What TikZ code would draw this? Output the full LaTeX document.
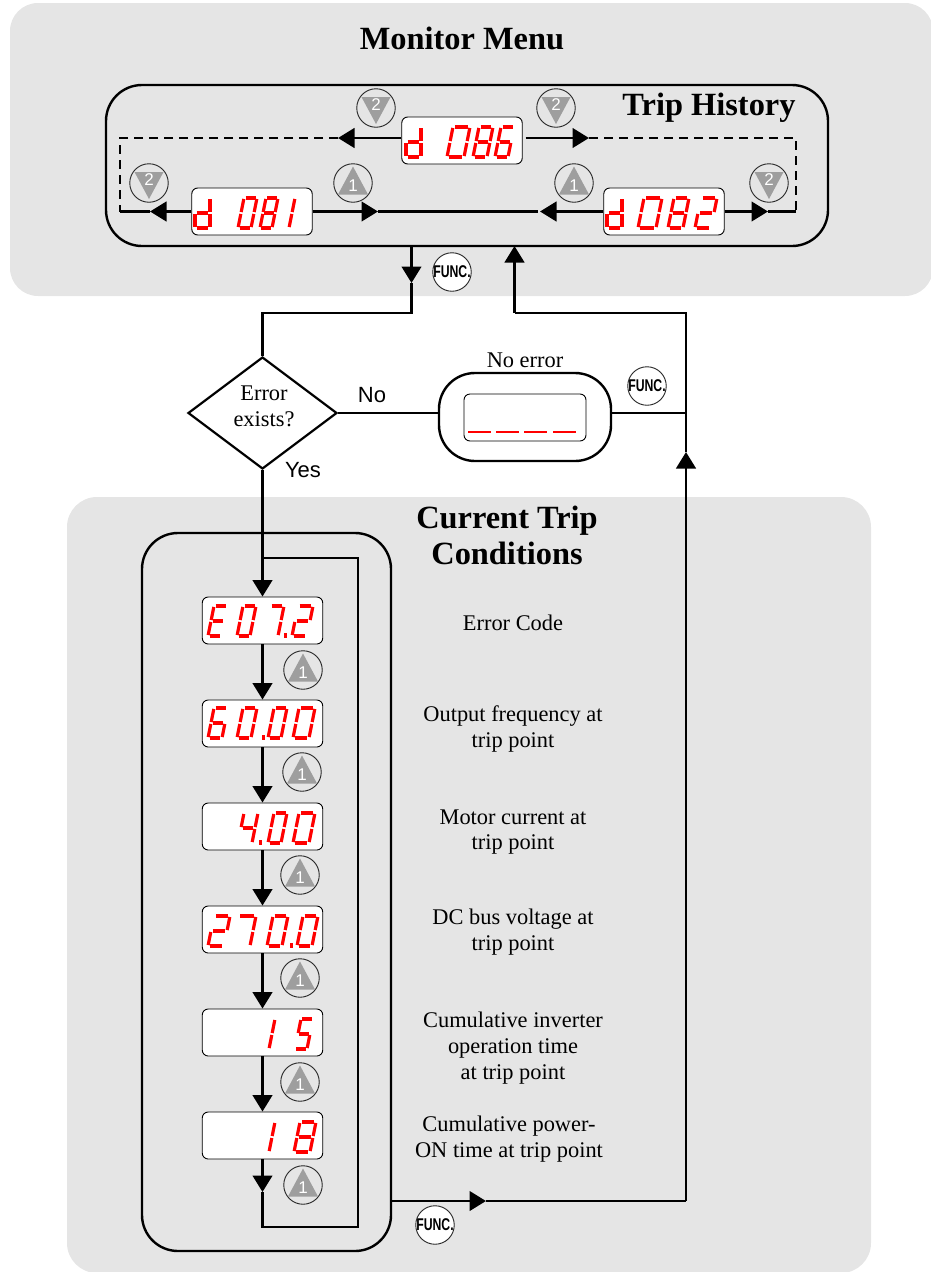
\documentclass[tikz,border=0pt]{standalone}
\usepackage{fontspec}
\usepackage{graphicx}
\setmainfont{Liberation Serif}
\newfontfamily\hv{Liberation Sans}
\usetikzlibrary{shapes.geometric,arrows.meta}
\definecolor{panelgray}{HTML}{E5E5E5}
\definecolor{trigray}{HTML}{9E9E9E}
\definecolor{ledred}{HTML}{FF0000}
% seven segments
\expandafter\def\csname sega\endcsname{\draw (1.5,-30)--(11.5,-30);}
\expandafter\def\csname segf\endcsname{\draw (0,-29)--(0,-16);}
\expandafter\def\csname segb\endcsname{\draw (13,-29)--(13,-16);}
\expandafter\def\csname segg\endcsname{\draw (1.5,-15)--(11.5,-15);}
\expandafter\def\csname sege\endcsname{\draw (0,-14)--(0,-1);}
\expandafter\def\csname segc\endcsname{\draw (13,-14)--(13,-1);}
\expandafter\def\csname segd\endcsname{\draw (1.5,0)--(11.5,0);}
\expandafter\def\csname dig0\endcsname{a,b,c,d,e,f}
\expandafter\def\csname dig1\endcsname{b,c}
\expandafter\def\csname dig2\endcsname{a,b,g,e,d}
\expandafter\def\csname dig4\endcsname{f,g,b,c}
\expandafter\def\csname dig5\endcsname{a,f,g,c,d}
\expandafter\def\csname dig6\endcsname{a,f,g,e,c,d}
\expandafter\def\csname dig7\endcsname{a,b,c}
\expandafter\def\csname dig8\endcsname{a,b,c,d,e,f,g}
\expandafter\def\csname digE\endcsname{a,f,g,e,d}
\expandafter\def\csname digd\endcsname{b,c,d,e,g}
\newcommand{\LED}[4]{%
  \begin{scope}[shift={(#1,#2)},xslant=.2,xscale=#3/13,draw=ledred,line width=3.2pt]
    \edef\curlist{\csname dig#4\endcsname}%
    \foreach \s in \curlist {\csname seg\s\endcsname}
  \end{scope}}
\newcommand{\LEDd}[2]{%
  \begin{scope}[shift={(#1,#2)},xscale=15/13,draw=ledred,line width=3.2pt]
    \edef\curlist{\csname digd\endcsname}%
    \foreach \s in \curlist {\csname seg\s\endcsname}
  \end{scope}}
\newcommand{\LEDdot}[2]{\fill[ledred] (#1,#2-3) rectangle (#1+3.4,#2+1.5);}
\newcommand{\upbtn}[3]{%
  \node[btn] (#1) at (#2,#3) {};
  \fill[trigray] (#2,#3-16.5) -- (#2+15,#3+11.5) -- (#2-15,#3+11.5) -- cycle;
  \node[btnnum] (#1n) at (#2,#3+3) {1};}
\newcommand{\dnbtn}[3]{%
  \node[btn] (#1) at (#2,#3) {};
  \fill[trigray] (#2,#3+16) -- (#2+14.5,#3-11) -- (#2-14.5,#3-11) -- cycle;
  \node[btnnum] (#1n) at (#2,#3-3) {2};}
\newcommand{\funcbtn}[3]{%
  \node[btn,fill=white,font=\hv\bfseries\fontsize{17}{17}\selectfont] (#1) at (#2,#3) {\makebox[0pt][c]{\scalebox{.72}[1]{FUNC.}}};}
\tikzset{
  conn/.style={line width=2.8pt,line cap=butt,line join=miter},
  arr/.style={conn,-{Triangle[length=16.5pt,width=19.5pt]}},
  dashline/.style={line width=2.4pt,dash pattern=on 9pt off 6pt},
  bigbox/.style={draw,line width=2.4pt,inner sep=0pt},
  display/.style={draw=black,line width=.9pt,fill=white,rounded corners=6pt,minimum width=120.5pt,minimum height=47pt,inner sep=0pt,text opacity=0,font=\hv\fontsize{20}{20}\selectfont},
  btn/.style={circle,draw=black!85,line width=.9pt,minimum size=38.5pt,inner sep=0pt},
  btnnum/.style={text=white,inner sep=0pt,font=\hv\fontsize{17}{17}\selectfont},
  title/.style={inner sep=0pt,align=center,font=\bfseries\fontsize{32.4}{36}\selectfont},
  caption/.style={inner sep=0pt,align=center,font=\fontsize{22.4}{25.8}\selectfont},
  sans/.style={inner sep=0pt,font=\hv\fontsize{22}{22}\selectfont},
}
\begin{document}
\begin{tikzpicture}[x=1pt,y=-1pt]
\useasboundingbox (0,0) rectangle (931,1272);
% panels
\fill[panelgray,rounded corners=28pt] (10,3) rectangle (933,296);
\fill[panelgray,rounded corners=30pt] (67,497) rectangle (871,1273);
% containers
\node[bigbox,rounded corners=36pt,minimum width=722pt,minimum height=161pt] (hist) at (467,165.5) {};
\node[bigbox,rounded corners=36pt,minimum width=249pt,minimum height=718pt] (cond) at (266.5,892) {};
\node[bigbox,fill=white,rounded corners=36pt,minimum width=172pt,minimum height=88pt] (noerr) at (525,417) {};
\node[draw=black,line width=.9pt,fill=white,rounded corners=6pt,minimum width=122pt,minimum height=47pt,inner sep=0pt] (nodisp) at (525,417.5) {};
% decision
\node[diamond,draw,fill=white,line width=2.2pt,aspect=1.33,minimum width=149pt,minimum height=112pt,inner sep=0pt] (dec) at (262.5,413) {};
\node[caption] (dect) at (264,406.5) {Error\\exists?};
% displays
\node[display] (d86) at (462,140.5) {d 086};
\node[display] (d81) at (252,211.5) {d 081};
\node[display] (d82) at (664,211.5) {d 082};
\node[display] (e1) at (262.5,620.5) {E 07.2};
\node[display] (e2) at (262.5,723.5) {60.00};
\node[display] (e3) at (262.5,826.5) {4.00};
\node[display] (e4) at (262.5,929.5) {270.0};
\node[display] (e5) at (262.5,1032.5) {15};
\node[display] (e6) at (262.5,1135.5) {18};
% coordinates
\coordinate (tl) at (120,138);
\coordinate (tr) at (796,138);
\coordinate (bl) at (120,211.5);
\coordinate (br) at (796,211.5);
\coordinate (a86l) at (338,138);
\coordinate (a86r) at (589,138);
\coordinate (a81l) at (150,211.5);
\coordinate (a81r) at (378,211.5);
\coordinate (a82l) at (540,211.5);
\coordinate (a82r) at (768,211.5);
\coordinate (dn) at (411.5,283);
\coordinate (knee) at (411.5,313);
\coordinate (kneeb) at (262.5,313);
\coordinate (up) at (514.5,246);
\coordinate (upk) at (514.5,313);
\coordinate (rk) at (686,313);
\coordinate (upr) at (686,452);
\coordinate (rb) at (686,1201);
\coordinate (outa) at (486,1201);
\coordinate (loopa) at (262.5,558);
\coordinate (loopb) at (358,558);
\coordinate (loopc) at (358,1227);
\coordinate (loopd) at (262.5,1227);
\coordinate (looparr) at (262.5,1192);
% trip history connectors
\draw[arr] (d86.west |- a86l) -- (a86l);
\draw[arr] (d86.east |- a86r) ++(3,0) -- (a86r);
\draw[dashline] (a86l) -- (tl) -- (bl);
\draw[dashline] (a86r) -- (tr) -- (br);
\draw[arr] (d81.west) -- (a81l);
\draw[conn] (a81l) -- (bl);
\draw[arr] (d81.east) -- (a81r);
\draw[conn] (a81r) -- (538,211.5);
\draw[arr] (d82.west) -- (a82l);
\draw[arr] (d82.east) -- (a82r);
\draw[conn] (a82r) -- (br);
% flow connectors
\draw[arr] (hist.south -| dn) -- (dn);
\draw[conn] (dn) -- (knee) -- (kneeb) -- (dec.north);
\draw[arr] (rb) -- (upr);
\draw[conn] (upr) -- (rk) -- (upk);
\draw[arr] (upk) -- (up);
\draw[conn] (dec.east) -- (dec.east -| noerr.west);
\draw[conn] (dec.east -| noerr.east) -- (dec.east -| rk);
\draw[arr] (dec.south) -- (e1.north);
\draw[conn] (loopa) -- (loopb) -- (loopc) -- (loopd) -- (looparr);
\draw[arr] (e1.south) -- (e2.north);
\draw[arr] (e2.south) -- (e3.north);
\draw[arr] (e3.south) -- (e4.north);
\draw[arr] (e4.south) -- (e5.north);
\draw[arr] (e5.south) -- (e6.north);
\draw[arr] (e6.south) -- (looparr);
\draw[arr] (cond.east |- rb) -- (outa);
\draw[conn] (outa) -- (rb);
% LED glyphs
\LEDd{406}{157}
\LED{447}{157}{17}{0}\LED{473}{157}{14}{8}\LED{495}{157}{13}{6}
\LEDd{195}{228}
\LED{238}{228}{13}{0}\LED{260}{228}{12}{8}\LED{275}{228}{14}{1}
\LEDd{607}{228}
\LED{638}{228}{18}{0}\LED{668}{228}{15}{8}\LED{695}{228}{16}{2}
\LED{208}{636}{13}{E}\LED{237}{636}{13}{0}\LED{264}{636}{14}{7}\LEDdot{284}{636}\LED{292}{636}{15}{2}
\LED{208}{738}{14}{6}\LED{237}{738}{14}{0}\LEDdot{262}{738}\LED{268}{738}{13}{0}\LED{293}{738}{16}{0}
\LED{238}{843}{14}{4}\LEDdot{259}{843}\LED{268}{843}{13}{0}\LED{293}{843}{16}{0}
\LED{208}{946}{16}{2}\LED{232}{946}{18}{7}\LED{267}{946}{15}{0}\LEDdot{290}{946}\LED{297}{946}{15}{0}
\LED{256}{1049}{13}{1}\LED{295}{1049}{12}{5}
\LED{256}{1152}{13}{1}\LED{294}{1152}{16}{8}
% no-error dashes
\foreach \da/\db in {468/491,496/519,524/547,553/576} \draw[draw=ledred,line width=2pt] (\da,431.5) -- (\db,431.5);
% buttons
\dnbtn{k1}{376}{108}
\dnbtn{k2}{556}{108}
\dnbtn{k3}{149}{183}
\dnbtn{k4}{769}{183}
\upbtn{k5}{353}{183}
\upbtn{k6}{574}{183}
\upbtn{k7}{303}{670}
\upbtn{k8}{302}{772}
\upbtn{k9}{300}{875}
\upbtn{k10}{300}{978}
\upbtn{k11}{300}{1082}
\upbtn{k12}{303}{1185}
\funcbtn{f1}{452}{272}
\funcbtn{f2}{647}{386}
\funcbtn{f3}{435}{1225}
% texts
\node[title] (t1) at (462,38) {Monitor Menu};
\node[title] (t2) at (709,108) {Trip History};
\node[title] (t3) at (507,535) {Current Trip\\Conditions};
\node[caption] (c0) at (525,360) {No error};
\node[sans] (s1) at (372,395) {No};
\node[sans] (s2) at (303,470) {Yes};
\node[caption] (c1) at (513,623) {Error Code};
\node[caption] (c2) at (513,729) {Output frequency at\\trip point};
\node[caption] (c3) at (513,832) {Motor current at\\trip point};
\node[caption] (c4) at (513,932) {DC bus voltage at\\trip point};
\node[caption] (c5) at (513,1048) {Cumulative inverter\\operation time\\at trip point};
\node[caption] (c6) at (509,1139) {Cumulative power-\\ON time at trip point};
\end{tikzpicture}
\end{document}
